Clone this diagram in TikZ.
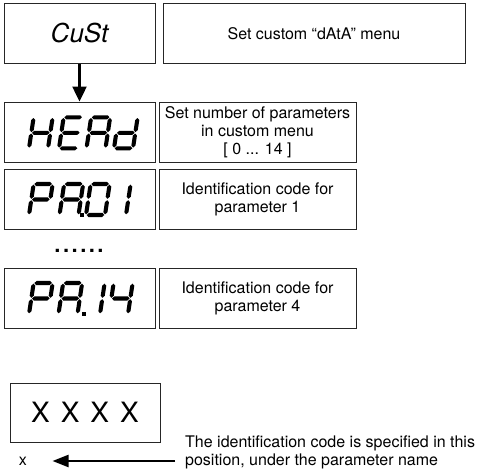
\documentclass[tikz,border=0pt]{standalone}
\usepackage{fontspec}
\setmainfont{TeX Gyre Heros}
\usetikzlibrary{arrows.meta}
\def\sth{2.05}
\def\sgap{0.7}
\def\dW{19}
\def\dH{31}
\newcommand\sgH[3]{\fill (#1+\sgap,#3) -- (#1+\sgap+\sth,#3-\sth) -- (#2-\sgap-\sth,#3-\sth) -- (#2-\sgap,#3) -- (#2-\sgap-\sth,#3+\sth) -- (#1+\sgap+\sth,#3+\sth) -- cycle;}
\newcommand\sgV[3]{\fill (#1,#2+\sgap) -- (#1+\sth,#2+\sgap+\sth) -- (#1+\sth,#3-\sgap-\sth) -- (#1,#3-\sgap) -- (#1-\sth,#3-\sgap-\sth) -- (#1-\sth,#2+\sgap+\sth) -- cycle;}
\newcommand\segmentA{\sgH{0}{\dW}{-\dH}}
\newcommand\segmentB{\sgV{\dW}{-\dH}{-\dH/2}}
\newcommand\segmentC{\sgV{\dW}{-\dH/2}{0}}
\newcommand\segmentD{\sgH{0}{\dW}{0}}
\newcommand\segmentE{\sgV{0}{-\dH/2}{0}}
\newcommand\segmentF{\sgV{0}{-\dH}{-\dH/2}}
\newcommand\segmentG{\sgH{0}{\dW}{-\dH/2}}
\newcommand\segdigit[3]{\begin{scope}[shift={(#1,#2)},xslant=0.15]\foreach \s in {#3}{\csname segment\s\endcsname}\end{scope}}
\newcommand\segdot[2]{\fill (#1-2,#2-4) rectangle (#1+2,#2);}
\tikzset{
  box/.style={draw=black!85, line width=0.9pt, inner sep=0pt, align=center,
    minimum height=60pt, font=\fontsize{16}{18}\selectfont},
  arr/.style={line width=2.2pt, -{Triangle[length=15pt,width=14pt]}},
  arrb/.style={line width=2.2pt, -{Triangle[length=16pt,width=12pt]}},
}
\begin{document}
\begin{tikzpicture}[x=1pt,y=-1pt]
\useasboundingbox (0,0) rectangle (477,472);
% rows
\node[box, minimum width=151pt] (cust) at (79.5,33.3) {\fontsize{26}{30}\selectfont\itshape CuSt};
\node[box, minimum width=302pt] (custd) at (314,33.3) {Set custom “dAtA” menu};
\node[box, minimum width=151pt] (head) at (79.5,132) {};
\node[box, minimum width=197pt] (headd) at (257.5,132) {Set number of parameters\\in custom menu\\{[} 0 ... 14 {]}};
\node[box, minimum width=151pt] (pa01) at (79.5,199.7) {};
\node[box, minimum width=197pt] (pa01d) at (257.5,199.7) {Identification code for\\parameter 1};
\node[font=\fontsize{31}{31}\selectfont, inner sep=0pt, anchor=base] (dots) at (79,252.5) {......};
\node[box, minimum width=151pt] (pa14) at (79.5,298.3) {};
\node[box, minimum width=197pt] (pa14d) at (257.5,298.3) {Identification code for\\parameter 4};
\node[box, minimum width=150pt, minimum height=59pt, font=\fontsize{28}{30}\selectfont] (xxxx) at (85,412.5) {\spaceskip=11pt X X X X};
\node[font=\fontsize{16}{18}\selectfont] (xlab) at (23,461) {x};
\node[anchor=north west, inner sep=0pt, align=left, font=\fontsize{16}{18}\selectfont] (note) at (185,436) {The identification code is specified in this\\position, under the parameter name};
% connectors
\draw[arr] (cust.south) -- (head.north);
\draw[arrb, shorten <=10pt, shorten >=22pt] (note.west |- xlab.east) -- (xlab.east);
% seven-segment displays
\segdigit{29}{148.3}{B,C,E,F,G}
\segdigit{59}{148.3}{A,D,E,F,G}
\segdigit{86.5}{148.3}{A,B,C,E,F,G}
\segdigit{114}{148.3}{B,C,D,E,G}
\segdigit{29}{215}{A,B,E,F,G}
\segdigit{59.5}{215}{A,B,C,E,F,G}
\segdot{82}{217}
\segdigit{86}{215}{A,B,C,D,E,F}
\segdigit{107}{215}{B,C}
\segdigit{29}{314}{A,B,E,F,G}
\segdigit{58.5}{314}{A,B,C,E,F,G}
\segdot{83.5}{316}
\segdigit{81}{314}{B,C}
\segdigit{109}{314}{B,C,F,G}
\end{tikzpicture}
\end{document}
